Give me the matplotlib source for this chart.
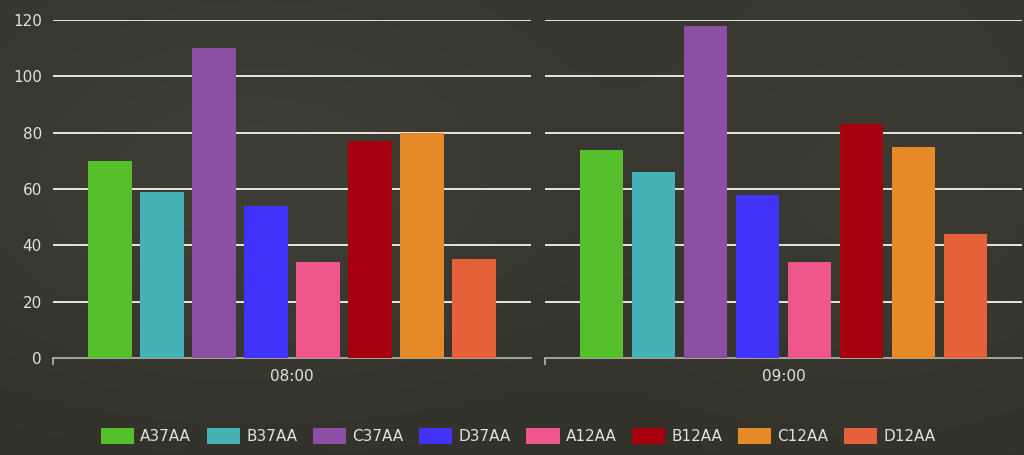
import matplotlib
matplotlib.use("Agg")
import matplotlib.pyplot as plt, numpy as np
from matplotlib.patches import Patch

series = ['A37AA', 'B37AA', 'C37AA', 'D37AA', 'A12AA', 'B12AA', 'C12AA', 'D12AA']
colors = ['#55c02b', '#46b2b5', '#8b4fa3', '#4233f8', '#ef578c', '#a6000f', '#e68a27', '#e6603a']
times = ['08:00', '09:00']
values = {
    '08:00': [70, 59, 110, 54, 34, 77, 80, 35],
    '09:00': [74, 66, 118, 58, 34, 83, 75, 44],
}
yticks = [0, 20, 40, 60, 80, 100, 120]

W, H = 1024, 455
fig = plt.figure(figsize=(W / 100, H / 100), dpi=100)

# dark textured-looking backdrop
bg = fig.add_axes([0, 0, 1, 1], zorder=-10)
yy, xx = np.mgrid[0:1:120j, 0:1:260j]
field = 0.23 + 0.04 * np.exp(-((xx - 0.25) ** 2 / 0.08 + (yy - 0.55) ** 2 / 0.15))
field += 0.025 * np.exp(-((xx - 0.85) ** 2 / 0.05 + (yy - 0.5) ** 2 / 0.2))
field -= 0.03 * yy ** 0.5 * 0.0 + 0.02 * (1 - yy)
base = np.array([0.93, 0.93, 0.80])
img = field[..., None] * base[None, None, :]
bg.imshow(img, aspect='auto', extent=[0, 1, 0, 1], origin='lower')
bg.axis('off')

txt = '#e2e2dc'
grid_c = '#e6e6e0'
bottom, top = 1 - 358 / H, 1 - 20 / H
lefts = [53 / W, 545 / W]
rights = [531 / W, 1022 / W]

x = np.arange(len(series))
for i, t in enumerate(times):
    ax = fig.add_axes([lefts[i], bottom, rights[i] - lefts[i], top - bottom])
    ax.set_facecolor('none')
    ax.bar(x, values[t], width=0.83, color=colors, zorder=3)
    ax.set_ylim(0, 120)
    half = (rights[i] - lefts[i]) * W / 52 / 2
    ax.set_xlim(3.5 - half, 3.5 + half)
    for v in yticks[1:]:
        ax.axhline(v, color=grid_c, lw=1.4, zorder=1)
    for s in ['top', 'right', 'left']:
        ax.spines[s].set_visible(False)
    ax.spines['bottom'].set_color('#b8b8b0')
    ax.spines['bottom'].set_linewidth(1.2)
    ax.set_xticks([3.5 - half])
    ax.set_xticklabels([''])
    ax.tick_params(axis='x', length=5, color='#b8b8b0', width=1.2)
    ax.text(3.5, -6.5, t, ha='center', va='center', color=txt, fontsize=11)
    if i == 0:
        ax.set_yticks(yticks)
        ax.tick_params(axis='y', length=0, labelcolor=txt, labelsize=11, pad=8)
    else:
        ax.set_yticks([])

handles = [Patch(facecolor=c, edgecolor='none', label=s) for s, c in zip(series, colors)]
leg = fig.legend(handles=handles, loc='center', bbox_to_anchor=(518 / W, 1 - 436 / H),
                 ncol=8, frameon=False, fontsize=11, handlelength=2.2, handleheight=1.2,
                 handletextpad=0.4, columnspacing=1.0)
for tx in leg.get_texts():
    tx.set_color(txt)

fig.savefig('out.png', dpi=100)
